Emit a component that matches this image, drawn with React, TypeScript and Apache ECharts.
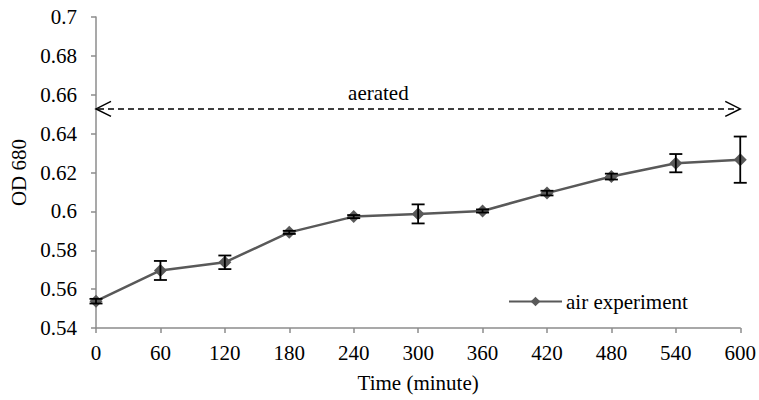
import React, { useEffect, useRef } from "react";
import * as echarts from "echarts";

const times = [0, 60, 120, 180, 240, 300, 360, 420, 480, 540, 600];
const od = [0.5538, 0.5696, 0.5738, 0.5892, 0.5973, 0.5987, 0.6002, 0.6094, 0.6179, 0.6248, 0.6266];
const errs = [0.0012, 0.0049, 0.0035, 0.0008, 0.0008, 0.0049, 0.0008, 0.0012, 0.0015, 0.0047, 0.0119];
const arrowStart = [0, 0.6527];
const arrowEnd = [600, 0.6527];
const arrowLabel = "aerated";
const arrowLabelX = 263;
const seriesName = "air experiment";

const FONT = "Liberation Serif";
const FS = 21;

export default function App() {
  const ref = useRef<HTMLDivElement>(null);
  useEffect(() => {
    if (!ref.current) return;
    const chart = echarts.init(ref.current, null, { renderer: "svg" });
    const lineData = times.map((t, i) => [t, od[i]]);
    const errData = times.map((t, i) => [t, od[i] - errs[i], od[i] + errs[i]]);
    chart.setOption({
      animation: false,
      textStyle: { fontFamily: FONT },
      grid: { left: 95, right: 18, top: 17, bottom: 72, containLabel: false },
      legend: {
        show: true,
        data: [seriesName],
        left: 508,
        top: 291,
        padding: 0,
        itemWidth: 53,
        itemHeight: 12,
        itemGap: 4,
        textStyle: { fontFamily: FONT, fontSize: FS, color: "#000", padding: [0, 0, 0, -1] },
      },
      xAxis: {
        type: "value",
        min: 0,
        max: 600,
        interval: 60,
        name: "Time (minute)",
        nameLocation: "middle",
        nameGap: 44,
        nameTextStyle: { fontFamily: FONT, fontSize: FS, color: "#000" },
        axisLine: { show: true, lineStyle: { color: "#8c8c8c", width: 1.5 } },
        axisTick: { show: true, length: 5, lineStyle: { color: "#8c8c8c", width: 1.5 } },
        axisLabel: { fontFamily: FONT, fontSize: FS, color: "#000", margin: 14 },
        splitLine: { show: false },
      },
      yAxis: {
        type: "value",
        min: 0.54,
        max: 0.7,
        interval: 0.02,
        name: "OD 680",
        nameLocation: "middle",
        nameGap: 67,
        nameRotate: 90,
        nameTextStyle: { fontFamily: FONT, fontSize: FS, color: "#000" },
        axisLine: { show: true, lineStyle: { color: "#8c8c8c", width: 1.5 } },
        axisTick: { show: true, length: 5, lineStyle: { color: "#8c8c8c", width: 1.5 } },
        axisLabel: {
          fontFamily: FONT,
          fontSize: FS,
          color: "#000",
          margin: 19,
          formatter: (v: number) => String(parseFloat(v.toFixed(2))),
        },
        splitLine: { show: false },
      },
      series: [
        {
          name: seriesName,
          type: "line",
          data: lineData,
          symbol: "diamond",
          symbolSize: 13,
          lineStyle: { color: "#595959", width: 2.5 },
          itemStyle: { color: "#595959" },
          z: 3,
        },
        {
          name: "err",
          type: "custom",
          data: errData,
          z: 4,
          renderItem: (params: any, api: any) => {
            const x = api.value(0);
            const lo = api.coord([x, api.value(1)]);
            const hi = api.coord([x, api.value(2)]);
            const w = 6.5;
            const style = { stroke: "#000", lineWidth: 1.8, fill: null };
            return {
              type: "group",
              children: [
                { type: "line", shape: { x1: lo[0], y1: lo[1], x2: hi[0], y2: hi[1] }, style },
                { type: "line", shape: { x1: lo[0] - w, y1: lo[1], x2: lo[0] + w, y2: lo[1] }, style },
                { type: "line", shape: { x1: hi[0] - w, y1: hi[1], x2: hi[0] + w, y2: hi[1] }, style },
              ],
            };
          },
        },
        {
          name: "arrow",
          type: "custom",
          data: [[arrowStart[0], arrowStart[1], arrowEnd[0], arrowEnd[1]]],
          z: 5,
          renderItem: (params: any, api: any) => {
            const a = api.coord([api.value(0), api.value(1)]);
            const b = api.coord([api.value(2), api.value(3)]);
            const t = api.coord([arrowLabelX, api.value(1)]);
            const h = 15;
            const v = 7.5;
            const st = { stroke: "#000", lineWidth: 1.5, fill: null };
            return {
              type: "group",
              children: [
                {
                  type: "line",
                  shape: { x1: a[0] + 2, y1: a[1], x2: b[0] - 2, y2: b[1] },
                  style: { stroke: "#000", lineWidth: 1.6, lineDash: [6, 4] },
                },
                {
                  type: "polyline",
                  shape: { points: [[a[0] + h, a[1] - v], [a[0], a[1]], [a[0] + h, a[1] + v]] },
                  style: st,
                },
                {
                  type: "polyline",
                  shape: { points: [[b[0] - h, b[1] - v], [b[0], b[1]], [b[0] - h, b[1] + v]] },
                  style: st,
                },
                {
                  type: "text",
                  x: t[0],
                  y: t[1] - 16,
                  style: {
                    text: arrowLabel,
                    fontFamily: FONT,
                    fontSize: FS,
                    fill: "#000",
                    textAlign: "center",
                    textVerticalAlign: "middle",
                  },
                },
              ],
            };
          },
        },
      ],
    });
    return () => chart.dispose();
  }, []);
  return <div ref={ref} style={{ width: 759, height: 400, position: "absolute", left: 0, top: 0 }} />;
}
